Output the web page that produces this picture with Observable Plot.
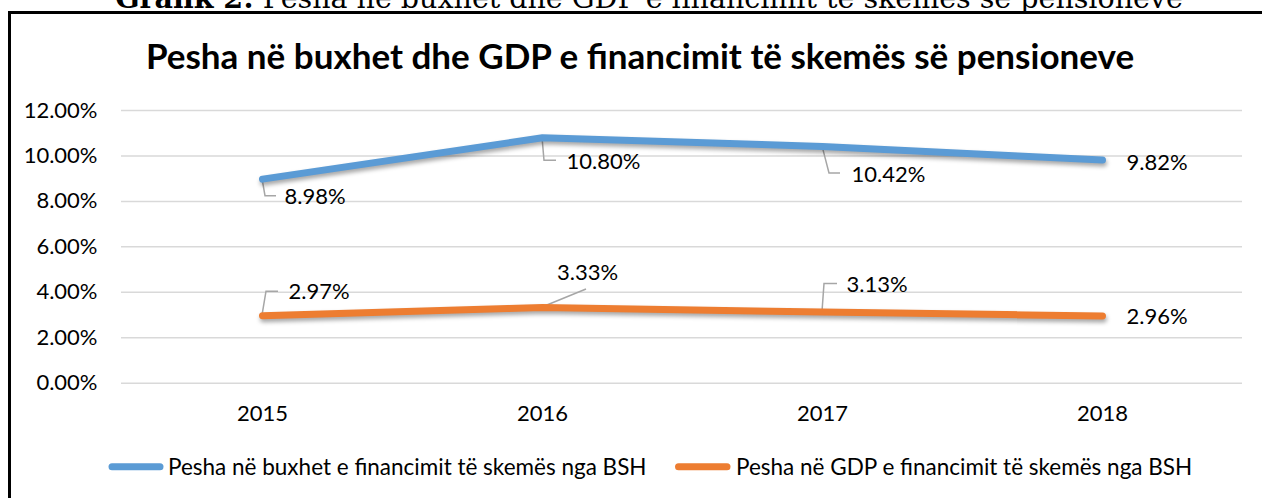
<!DOCTYPE html>
<html>
<head>
<meta charset="utf-8">
<script src="https://cdn.jsdelivr.net/npm/d3@7"></script>
<script src="https://cdn.jsdelivr.net/npm/@observablehq/plot@0.6"></script>
<style>
  html, body { margin: 0; padding: 0; background: #fff; width: 1262px; height: 498px; overflow: hidden; }
  #page { position: relative; width: 1262px; height: 498px; overflow: hidden; }
  #box { position: absolute; left: 8px; top: 11px; width: 1300px; height: 600px; border-left: 3px solid #000; border-top: 3px solid #000; box-sizing: border-box; }
  #overlay { position: absolute; left: 0; top: 0; }
  #chart { position: absolute; left: 0; top: 80px; }
</style>
</head>
<body>
<div id="page">
  <div id="box"></div>
  <svg id="overlay" width="1262" height="498"></svg>
  <div id="chart"></div>
</div>
<script>
// ---- data ----
const years = ["2015", "2016", "2017", "2018"];
const budgetShare = [8.98, 10.80, 10.42, 9.82];
const gdpShare = [2.97, 3.33, 3.13, 2.96];
const seriesNames = [
  "Pesha në buxhet e financimit të skemës nga BSH",
  "Pesha në GDP e financimit të skemës nga BSH"
];
const yTicks = [0, 2, 4, 6, 8, 10, 12];
const chartTitle = "Pesha në buxhet dhe GDP e financimit të skemës së pensioneve";
const headerBold = "Grafik 2:";
const headerRest = " Pesha në buxhet dhe GDP e financimit të skemës së pensioneve";

// ---- styles / label layout (pixel offsets from each point) ----
const colors = ["#5B9BD5", "#ED7D31"];
const budgetLabelPos = [
  {dx: 22, dy: 18, anchor: "start", leader: [[0, 0], [3, 17], [14, 17]]},
  {dx: 24, dy: 24, anchor: "start", leader: [[0, 0], [2, 23], [14, 23]]},
  {dx: 29, dy: 29, anchor: "start", leader: [[0, 0], [7, 27], [18, 27]]},
  {dx: 24, dy: 3, anchor: "start", leader: null}
];
const gdpLabelPos = [
  {dx: 26, dy: -24, anchor: "start", leader: [[0, 0], [4, -24], [16, -24]]},
  {dx: 45, dy: -35, anchor: "middle", leader: [[0, 0], [44, -18]]},
  {dx: 24, dy: -27, anchor: "start", leader: [[0, 0], [2, -28], [15, -28]]},
  {dx: 24, dy: 1, anchor: "start", leader: null}
];

const FONT = "Lato, 'Open Sans', sans-serif";

const rows = [];
const labels = [];
years.forEach((yr, i) => {
  const a = {year: yr, value: budgetShare[i], series: seriesNames[0]};
  const b = {year: yr, value: gdpShare[i], series: seriesNames[1]};
  rows.push(a, b);
  labels.push({row: a, pos: budgetLabelPos[i]}, {row: b, pos: gdpLabelPos[i]});
});

const leaderMark = (index, scales) => {
  const g = d3.create("svg:g")
    .attr("fill", "none")
    .attr("stroke", "#a6a6a6")
    .attr("stroke-width", 1.5);
  for (const L of labels) {
    if (!L.pos.leader) continue;
    const px = scales.x(L.row.year), py = scales.y(L.row.value);
    g.append("path").attr("d", d3.line()(L.pos.leader.map(([u, v]) => [px + u, py + v])));
  }
  return g.node();
};

const plot = Plot.plot({
  width: 1262,
  height: 360,
  marginLeft: 121,
  marginRight: 20,
  marginTop: 30,
  marginBottom: 57.3,
  style: {fontFamily: FONT, fontSize: "22px", color: "#000", background: "transparent", overflow: "visible"},
  x: {type: "point", domain: years, padding: 0.5, tickSize: 0, tickPadding: 22, label: null},
  y: {domain: [0, 12], ticks: yTicks, tickFormat: d => d.toFixed(2) + "%", tickSize: 0, tickPadding: 24, label: null},
  color: {domain: seriesNames, range: colors},
  marks: [
    Plot.ruleY(yTicks, {stroke: "#d9d9d9", strokeWidth: 1.5}),
    leaderMark,
    Plot.line(rows, {x: "year", y: "value", z: "series", stroke: "series", strokeWidth: 7, strokeLinecap: "round", strokeLinejoin: "round"}),
    ...labels.map(L => Plot.text([L.row], {
      x: "year", y: "value",
      text: d => d.value.toFixed(2) + "%",
      dx: L.pos.dx, dy: L.pos.dy, textAnchor: L.pos.anchor,
      fill: "#000", fontSize: 22
    }))
  ]
});
plot.querySelectorAll('g[aria-label="line"] path').forEach(p => {
  p.style.filter = "drop-shadow(1px 3px 2px rgba(0,0,0,0.35))";
});
document.getElementById("chart").appendChild(plot);

// ---- header, title and legend ----
const ov = d3.select("#overlay");
const header = ov.append("text")
  .attr("x", 649).attr("y", 8)
  .attr("text-anchor", "middle")
  .attr("font-family", "'DejaVu Serif', 'Liberation Serif', serif")
  .attr("font-size", 28.5)
  .attr("fill", "#000");
header.append("tspan").attr("font-weight", "bold").text(headerBold);
header.append("tspan").text(headerRest);

ov.append("text")
  .attr("x", 640).attr("y", 69)
  .attr("text-anchor", "middle")
  .attr("font-family", FONT)
  .attr("font-weight", "bold")
  .attr("font-size", 35)
  .attr("fill", "#000")
  .text(chartTitle);

const legendItems = [
  {x1: 112, x2: 160, tx: 168},
  {x1: 678.5, x2: 727, tx: 736}
];
seriesNames.forEach((name, i) => {
  const it = legendItems[i];
  ov.append("line")
    .attr("x1", it.x1).attr("x2", it.x2).attr("y1", 466.7).attr("y2", 466.7)
    .attr("stroke", colors[i]).attr("stroke-width", 7).attr("stroke-linecap", "round");
  ov.append("text")
    .attr("x", it.tx).attr("y", 466.7)
    .attr("dominant-baseline", "central")
    .attr("font-family", FONT)
    .attr("font-size", 22.5)
    .attr("fill", "#000")
    .text(name);
});
</script>
</body>
</html>
